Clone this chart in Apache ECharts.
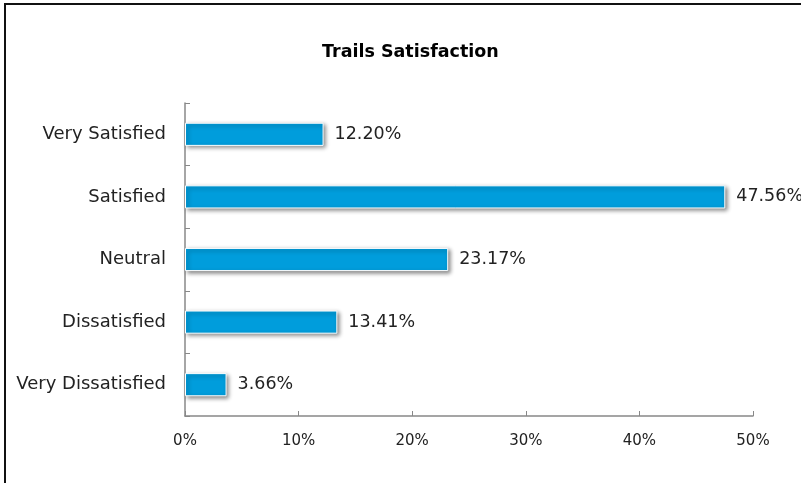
<!DOCTYPE html>
<html>
<head>
<meta charset="utf-8">
<script src="https://cdn.jsdelivr.net/npm/echarts@6/dist/echarts.min.js"></script>
<style>
  html, body { margin: 0; padding: 0; background: #fff; }
  #chart { width: 801px; height: 483px; }
</style>
</head>
<body>
<div id="chart"></div>
<script>
// categories top to bottom
var categories = ['Very Satisfied', 'Satisfied', 'Neutral', 'Dissatisfied', 'Very Dissatisfied']
var percentValues = [12.20, 47.56, 23.17, 13.41, 3.66]
var xTicks = [0, 10, 20, 30, 40, 50]

var fontName = 'DejaVu Sans'

var chart = echarts.init(document.getElementById('chart'))

var option = {
    animation: false,
    backgroundColor: '#fff',
    title: {
        text: 'Trails Satisfaction',
        left: 317,
        top: 38,
        textStyle: { fontFamily: fontName, fontSize: 17.5, fontWeight: 'bold', color: '#000' }
    },
    graphic: [{
        type: 'rect',
        shape: { x: 5, y: 4, width: 830, height: 520 },
        style: { fill: 'none', stroke: '#111', lineWidth: 2 },
        silent: true
    }],
    grid: { left: 185, right: 48, top: 103, bottom: 67, containLabel: false },
    xAxis: {
        type: 'value',
        min: xTicks[0],
        max: xTicks[xTicks.length - 1],
        interval: 10,
        splitLine: { show: false },
        axisLine: { show: true, lineStyle: { color: '#888', width: 1.5 } },
        axisTick: { show: true, inside: true, length: 5, lineStyle: { color: '#888' } },
        axisLabel: {
            formatter: '{value}%', margin: 18,
            fontFamily: fontName, fontSize: 15, color: '#222'
        }
    },
    yAxis: {
        type: 'category',
        data: categories,
        inverse: true,
        axisLine: { show: true, lineStyle: { color: '#888', width: 1.5 } },
        axisTick: { show: true, inside: true, length: 5, lineStyle: { color: '#888' } },
        axisLabel: { margin: 19, fontFamily: fontName, fontSize: 18, color: '#222' }
    },
    series: [{
        type: 'bar',
        data: percentValues,
        barWidth: '37%',
        itemStyle: {
            color: '#009ddc',
            borderColor: '#fff',
            borderWidth: 1,
            shadowColor: 'rgba(0,0,0,0.45)',
            shadowBlur: 4,
            shadowOffsetX: 2,
            shadowOffsetY: 2
        },
        label: {
            show: true,
            position: 'right',
            distance: 11,
            formatter: function (p) { return p.value.toFixed(2) + '%' },
            fontFamily: fontName, fontSize: 17.5, color: '#222'
        }
    }]
}

chart.setOption(option)
</script>
</body>
</html>
